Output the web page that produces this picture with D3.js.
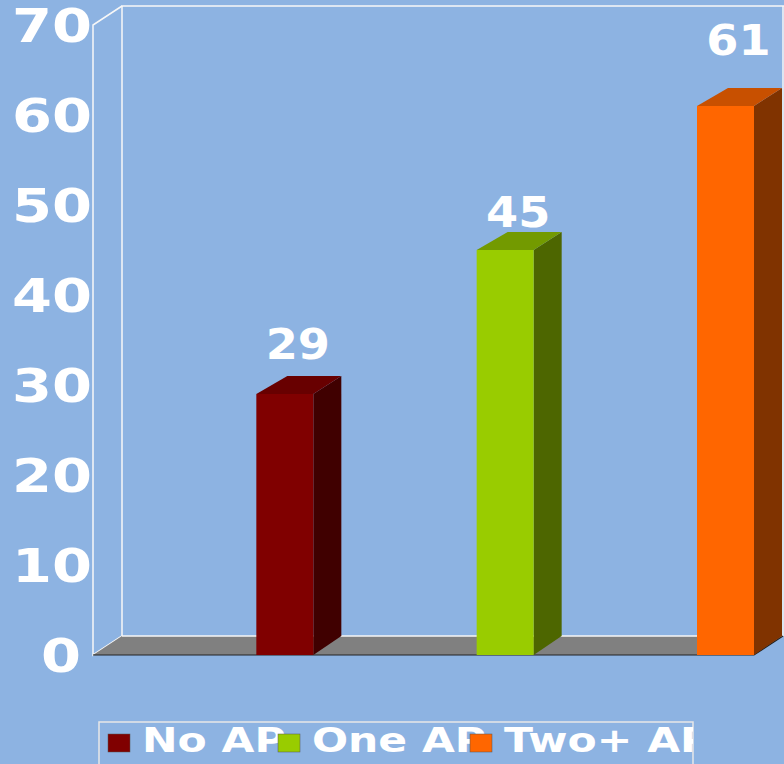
<!DOCTYPE html>
<html>
<head>
<meta charset="utf-8">
<script src="https://cdn.jsdelivr.net/npm/d3@7"></script>
<style>
  html, body { margin: 0; padding: 0; background: #8db3e2; }
  svg text { font-family: "DejaVu Sans", sans-serif; font-weight: bold; fill: #fff; }
</style>
</head>
<body>
<div id="chart"></div>
<script>
const categories = ["No AP", "One AP", "Two+ AP"]
const values = [29, 45, 61]
const yTicks = [0, 10, 20, 30, 40, 50, 60, 70]
const frontColors = ["#800000", "#99cc00", "#ff6600"]
const sideColors = ["#400000", "#4d6600", "#803300"]
const topColors = ["#680000", "#739a00", "#c85000"]

const w = 784, h = 764
const plotLeft = 93, plotRight = 754, plotBottom = 655, plotTop = 25
const dx = 29, dy = 19        // depth of walls / floor
const bdx = 28, bdy = 18      // depth of bars
const barW = 57
const stretch = 1.25          // text in the original is wider than normal
const labelLift = [35, 23, 51]
const legendX = [108, 278, 470]

var svg = d3.select("#chart").append("svg")
  .attr("width", w)
  .attr("height", h)

svg.append("rect").attr("width", w).attr("height", h).attr("fill", "#8db3e2")

var xScale = d3.scaleBand().domain(categories).range([plotLeft, plotRight])
var yScale = d3.scaleLinear().domain([0, 70]).range([plotBottom, plotTop])

var pts = p => p.map(d => d.join(",")).join(" ")

// back wall + left wall outlines
var walls = svg.append("g").attr("fill", "none").attr("stroke", "#f7f7f7").attr("stroke-width", 1.5)
walls.append("polyline")
  .attr("points", pts([[plotLeft + dx, plotBottom - dy], [plotLeft + dx, plotTop - dy], [w + 2, plotTop - dy]]))
walls.append("polyline")
  .attr("points", pts([[plotRight + dx, plotTop - dy], [plotRight + dx, plotBottom - dy]]))
walls.append("polyline")
  .attr("points", pts([[plotLeft + dx, plotTop - dy], [plotLeft, plotTop], [plotLeft, plotBottom], [plotLeft + dx, plotBottom - dy]]))

// floor
svg.append("polygon")
  .attr("points", pts([[plotLeft, plotBottom], [plotRight, plotBottom], [plotRight + dx, plotBottom - dy], [plotLeft + dx, plotBottom - dy]]))
  .attr("fill", "#808080")
svg.append("line")
  .attr("x1", plotLeft + dx).attr("x2", plotRight + dx)
  .attr("y1", plotBottom - dy).attr("y2", plotBottom - dy)
  .attr("stroke", "#f7f7f7").attr("stroke-width", 1.5)
svg.append("polyline")
  .attr("points", pts([[plotLeft, plotBottom], [plotRight, plotBottom], [plotRight + dx, plotBottom - dy]]))
  .attr("fill", "none").attr("stroke", "#222").attr("stroke-width", 1.2)

// bars
var bars = svg.append("g").selectAll("g").data(categories).join("g")
bars.each(function (c, i) {
  var g = d3.select(this)
  var x0 = xScale(c) + xScale.bandwidth() - barW, x1 = x0 + barW
  var yt = yScale(values[i])
  g.append("polygon")
    .attr("points", pts([[x1, plotBottom], [x1 + bdx, plotBottom - dy], [x1 + bdx, yt - bdy], [x1, yt]]))
    .attr("fill", sideColors[i])
  g.append("polygon")
    .attr("points", pts([[x0, yt], [x1, yt], [x1 + bdx, yt - bdy], [x0 + bdx + 3, yt - bdy]]))
    .attr("fill", topColors[i])
  g.append("rect")
    .attr("x", x0).attr("y", yt)
    .attr("width", barW).attr("height", plotBottom - yt)
    .attr("fill", frontColors[i])
})

// value labels
svg.append("g").selectAll("text").data(values).join("text")
  .attr("transform", (d, i) => {
    var cx = xScale(categories[i]) + xScale.bandwidth() - barW / 2 + 13
    return "translate(" + cx + "," + (yScale(d) - labelLift[i]) + ") scale(1.1,1)"
  })
  .attr("text-anchor", "middle")
  .attr("font-size", 42)
  .text(d => d)

// y axis labels
svg.append("g").selectAll("text").data(yTicks).join("text")
  .attr("transform", d => "translate(" + (d === 0 ? 81 : 92) + "," + (yScale(d) + 17) + ") scale(" + stretch + ",1)")
  .attr("text-anchor", "end")
  .attr("font-size", 46)
  .text(d => d)

// legend
svg.append("clipPath").attr("id", "legclip")
  .append("rect").attr("x", 99).attr("y", 722).attr("width", 594).attr("height", 60)
var leg = svg.append("g")
leg.append("rect")
  .attr("x", 99).attr("y", 722).attr("width", 594).attr("height", 60)
  .attr("fill", "none").attr("stroke", "#e8e8e8").attr("stroke-width", 1.5)
var legItems = leg.append("g").attr("clip-path", "url(#legclip)")
legItems.selectAll("text").data(categories).join("text")
  .attr("transform", (d, i) => "translate(" + (legendX[i] + 34) + ",752) scale(" + stretch + ",1)")
  .attr("font-size", 34)
  .text(d => d)
legItems.selectAll("rect").data(categories).join("rect")
  .attr("x", (d, i) => legendX[i]).attr("y", 734)
  .attr("width", 22).attr("height", 18)
  .attr("fill", (d, i) => frontColors[i])
  .attr("stroke", "#555").attr("stroke-width", 0.5)
</script>
</body>
</html>
